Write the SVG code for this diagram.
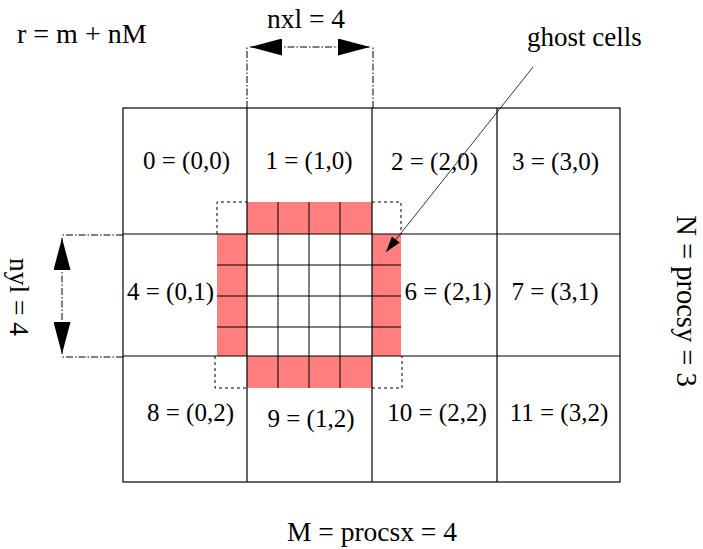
<svg xmlns="http://www.w3.org/2000/svg" width="703" height="549" viewBox="0 0 703 549">
<style>
text{font-family:"Liberation Serif","Times New Roman",serif;fill:#000}
.lbl{font-size:25px;text-anchor:middle}
.big{font-size:27.5px}
.grid{stroke:#000;stroke-width:1.2;fill:none}
.fine{stroke:#000;stroke-width:1;fill:none}
.pink{fill:#ff7f7f;stroke:none}
.dot{stroke:#000;stroke-width:1;fill:none;stroke-dasharray:3 3}
.dd{stroke:#000;stroke-width:1;fill:none;stroke-dasharray:7 2 1.5 2}
.thin{stroke:#000;stroke-width:0.8;fill:none}
</style>
<defs>
<marker id="bigArrow" viewBox="0 0 32 17" refX="32" refY="8.5" markerWidth="32" markerHeight="17" markerUnits="userSpaceOnUse" orient="auto-start-reverse">
<path d="M0,0 L32,8.5 L0,17 Z" fill="#000"/>
</marker>
<marker id="smallArrow" viewBox="0 0 16 10" refX="16" refY="5" markerWidth="16" markerHeight="10" markerUnits="userSpaceOnUse" orient="auto">
<path d="M0,0 L16,5 L0,10 Z" fill="#000"/>
</marker>
</defs>
<rect x="0" y="0" width="703" height="549" fill="#fff"/>

<g id="ghost-region">
<rect class="pink" x="247" y="202" width="125" height="32"/>
<rect class="pink" x="247" y="356" width="125" height="32"/>
<rect class="pink" x="217" y="234" width="30" height="122"/>
<rect class="pink" x="372" y="234" width="29" height="122"/>
<path class="fine" d="M278,202 V388 M309,202 V388 M340,202 V388 M217,265 H401 M217,296 H401 M217,327 H401"/>
<path class="dot" d="M217,234 V202 H247 M372,202 H401 V234 M215,356 V388 H247 M372,388 H402 V356"/>
</g>

<g id="grid">
<rect class="grid" x="123" y="108" width="497" height="374"/>
<path class="grid" d="M247,108 V482 M372,108 V482 M497,108 V482 M123,234 H620 M123,356 H620"/>
</g>

<g id="cell-0"><text class="lbl" x="186.5" y="169">0 = (0,0)</text></g>
<g id="cell-1"><text class="lbl" x="309" y="169">1 = (1,0)</text></g>
<g id="cell-2"><text class="lbl" x="434.5" y="170">2 = (2,0)</text></g>
<g id="cell-3"><text class="lbl" x="555.5" y="170">3 = (3,0)</text></g>
<g id="cell-4"><text class="lbl" x="170.5" y="300">4 = (0,1)</text></g>
<g id="cell-6"><text class="lbl" x="448" y="300">6 = (2,1)</text></g>
<g id="cell-7"><text class="lbl" x="555" y="300">7 = (3,1)</text></g>
<g id="cell-8"><text class="lbl" x="190.5" y="421">8 = (0,2)</text></g>
<g id="cell-9"><text class="lbl" x="311" y="427">9 = (1,2)</text></g>
<g id="cell-10"><text class="lbl" x="437" y="421">10 = (2,2)</text></g>
<g id="cell-11"><text class="lbl" x="559" y="421">11 = (3,2)</text></g>

<g id="labels">
<text class="big" x="17" y="43" style="font-size:28px">r = m + nM</text>
<text class="big" x="306" y="28" text-anchor="middle">nxl = 4</text>
<text class="big" x="527" y="46" style="font-size:27px">ghost cells</text>
<text class="big" x="372" y="541" text-anchor="middle">M = procsx = 4</text>
<text class="big" text-anchor="middle" transform="translate(10,297) rotate(90)">nyl = 4</text>
<text class="big" text-anchor="middle" transform="translate(677,301) rotate(90)" style="font-size:28.5px">N = procsy = 3</text>
</g>

<g id="connectors">
<path class="dd" d="M247,108 V47 M373,108 V47"/>
<path class="dd" d="M250,47 H370" marker-start="url(#bigArrow)" marker-end="url(#bigArrow)"/>
<path class="dd" d="M123,235 H62 M123,357 H62"/>
<path class="dd" d="M62,238 V354" marker-start="url(#bigArrow)" marker-end="url(#bigArrow)"/>
<path class="thin" d="M533,67 L386,252" marker-end="url(#smallArrow)"/>
</g>
</svg>
